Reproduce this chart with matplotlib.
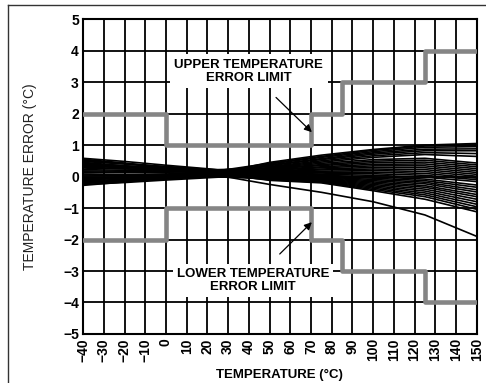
import matplotlib.pyplot as plt
import matplotlib.lines as mlines

plt.rcParams['font.family'] = ['Liberation Sans', 'DejaVu Sans']
plt.rcParams['axes.unicode_minus'] = True

# temperature points where each curve was read
temps = [-40, -20, 0, 25, 50, 75, 100, 125, 150]

# error curves (degC), one list per device
curves = [
    [-0.28, -0.17, -0.05, 0.10, 0.45, 0.68, 0.86, 1.00, 1.05],
    [0.50, 0.41, 0.31, 0.18, 0.42, 0.64, 0.83, 0.97, 1.00],
    [-0.10, -0.06, -0.01, 0.05, 0.40, 0.61, 0.79, 0.93, 0.95],
    [0.22, 0.20, 0.17, 0.14, 0.37, 0.57, 0.75, 0.87, 0.88],
    [0.05, 0.06, 0.07, 0.08, 0.35, 0.54, 0.71, 0.82, 0.82],
    [0.40, 0.34, 0.28, 0.20, 0.32, 0.50, 0.66, 0.76, 0.73],
    [-0.22, -0.15, -0.08, 0.02, 0.30, 0.46, 0.61, 0.70, 0.64],
    [0.30, 0.25, 0.19, 0.12, 0.28, 0.42, 0.54, 0.58, 0.43],
    [0.58, 0.48, 0.36, 0.22, 0.26, 0.38, 0.49, 0.52, 0.37],
    [-0.16, -0.12, -0.06, 0.00, 0.24, 0.35, 0.44, 0.46, 0.31],
    [0.12, 0.13, 0.14, 0.16, 0.22, 0.31, 0.39, 0.40, 0.25],
    [0.45, 0.34, 0.22, 0.06, 0.20, 0.28, 0.34, 0.34, 0.19],
    [-0.05, -0.01, 0.05, 0.11, 0.18, 0.24, 0.29, 0.28, 0.13],
    [0.35, 0.31, 0.25, 0.19, 0.16, 0.21, 0.24, 0.22, 0.07],
    [-0.25, -0.19, -0.11, -0.02, 0.14, 0.17, 0.19, 0.16, 0.01],
    [0.18, 0.17, 0.15, 0.13, 0.12, 0.14, 0.14, 0.10, -0.05],
    [0.53, 0.41, 0.27, 0.09, 0.10, 0.11, 0.09, 0.04, -0.10],
    [-0.02, -0.02, 0.02, 0.04, 0.08, 0.07, 0.04, -0.02, -0.16],
    [0.27, 0.24, 0.21, 0.17, 0.06, 0.04, -0.01, -0.08, -0.27],
    [-0.19, -0.12, -0.03, 0.07, 0.04, 0.01, -0.05, -0.13, -0.34],
    [0.48, 0.40, 0.32, 0.21, 0.02, -0.02, -0.09, -0.18, -0.42],
    [0.08, 0.06, 0.04, 0.01, 0.01, -0.04, -0.13, -0.23, -0.49],
    [0.38, 0.32, 0.24, 0.15, -0.01, -0.06, -0.17, -0.29, -0.57],
    [-0.13, -0.09, -0.03, 0.03, -0.03, -0.08, -0.21, -0.34, -0.64],
    [0.55, 0.43, 0.29, 0.12, -0.04, -0.10, -0.25, -0.40, -0.72],
    [0.15, 0.13, 0.11, 0.08, -0.06, -0.12, -0.29, -0.46, -0.80],
    [-0.07, -0.05, -0.03, -0.01, -0.07, -0.14, -0.33, -0.52, -0.88],
    [0.33, 0.28, 0.23, 0.16, -0.09, -0.16, -0.37, -0.58, -0.96],
    [0.02, 0.03, 0.04, 0.05, -0.10, -0.18, -0.41, -0.64, -1.04],
    [0.43, 0.34, 0.23, 0.10, -0.12, -0.20, -0.45, -0.72, -1.12],
    [-0.20, -0.13, -0.06, 0.04, -0.25, -0.50, -0.80, -1.22, -1.90],
]

# error limit steps
limit_temps = [-40, 0, 70, 85, 125, 150]
upper_limit = [2, 1, 2, 3, 4, 4]
lower_limit = [-2, -1, -2, -3, -4, -4]

fig = plt.figure(figsize=(4.86, 3.83), dpi=100)
ax = fig.add_axes([0.171, 0.128, 0.81, 0.822])

for c in curves:
    ax.plot(temps, c, color='black', lw=1.2, zorder=3)

ax.step(limit_temps, upper_limit, where='post', color='#858585', lw=3.3, zorder=4)
ax.step(limit_temps, lower_limit, where='post', color='#858585', lw=3.3, zorder=4)

ax.set_xlim(-40, 150)
ax.set_ylim(-5, 5)
ax.set_xticks(range(-40, 151, 10))
ax.set_yticks(range(-5, 6))
ax.grid(True, color='black', lw=1.3, zorder=1)
ax.set_axisbelow(True)
ax.tick_params(length=0, labelsize=10, pad=3)
for lab in ax.get_xticklabels() + ax.get_yticklabels():
    lab.set_fontweight('bold')
for lab in ax.get_xticklabels():
    lab.set_rotation(90)
for s in ax.spines.values():
    s.set_linewidth(1.5)

ax.set_xlabel('TEMPERATURE (°C)', fontsize=9.5, fontweight='bold', va='center')
ax.xaxis.set_label_coords(0.5, -0.13)
ax.set_ylabel('TEMPERATURE ERROR (°C)', fontsize=10, color='#222222', va='center')
ax.yaxis.set_label_coords(-0.135, 0.5)

box = dict(facecolor='white', edgecolor='none', pad=3)
ax.annotate('UPPER TEMPERATURE\nERROR LIMIT', xy=(70.4, 1.41), xytext=(40, 3.35),
            ha='center', va='center', fontsize=9.5, fontweight='bold', bbox=box,
            zorder=6, linespacing=1.1,
            arrowprops=dict(arrowstyle='-|>', color='black', lw=0.9,
                            shrinkA=10, shrinkB=0, mutation_scale=11))
ax.annotate('LOWER TEMPERATURE\nERROR LIMIT', xy=(70.4, -1.45), xytext=(42, -3.3),
            ha='center', va='center', fontsize=9.5, fontweight='bold', bbox=box,
            zorder=6, linespacing=1.1,
            arrowprops=dict(arrowstyle='-|>', color='black', lw=0.9,
                            shrinkA=10, shrinkB=0, mutation_scale=11))

# page border (top and left)
fig.add_artist(mlines.Line2D([8 / 486, 1], [1 - 5 / 383, 1 - 5 / 383],
                             transform=fig.transFigure, color='#333333', lw=1))
fig.add_artist(mlines.Line2D([8 / 486, 8 / 486], [0, 1 - 5 / 383],
                             transform=fig.transFigure, color='#333333', lw=1))

fig.savefig('out.png', dpi=100)
